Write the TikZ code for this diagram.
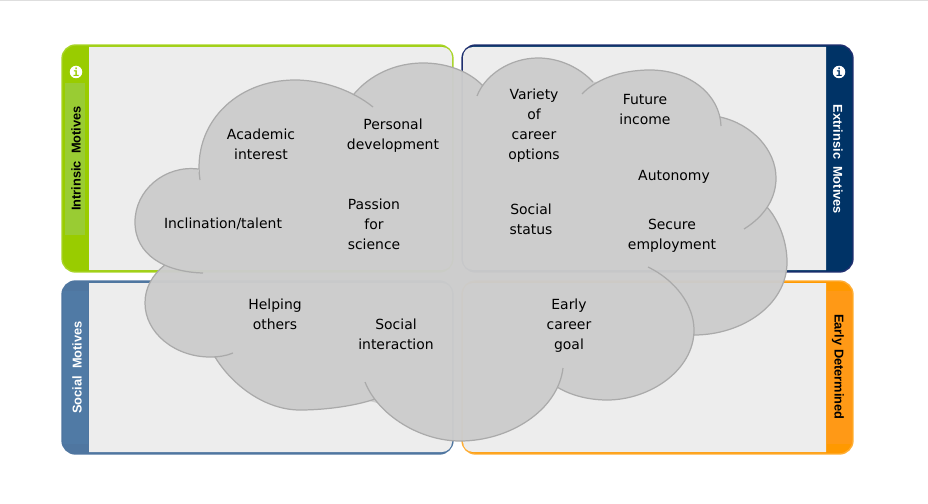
\documentclass[tikz,border=0pt]{standalone}
\usepackage{fontspec}
\setmainfont{DejaVu Sans}
\newfontfamily\tabfont{Liberation Sans}
\newfontfamily\infofont{DejaVu Sans Mono}
\usetikzlibrary{positioning}

\definecolor{panelgrey}{HTML}{EDEDED}
\definecolor{cloudgrey}{HTML}{CCCCCC}
\definecolor{cloudline}{HTML}{AAAAAA}
\definecolor{intrinsiccol}{HTML}{99CC00}
\definecolor{intrinsicband}{HTML}{99CC33}
\definecolor{extrinsiccol}{HTML}{003366}
\definecolor{extrinsicline}{HTML}{1F2F6F}
\definecolor{socialcol}{HTML}{4F76A0}
\definecolor{socialband}{HTML}{507AA5}
\definecolor{earlycol}{HTML}{FF9900}
\definecolor{earlyband}{HTML}{FF9916}

\tikzset{
  panelbox/.style={rectangle, rounded corners=0.27cm, line width=0.8pt, inner sep=0pt,
    minimum width=7.82cm},
  tablabel/.style={font=\tabfont\fontsize{7.3}{8}\selectfont\bfseries, inner sep=0pt},
  infoicon/.style={circle, fill=white, minimum size=0.25cm, inner sep=0pt,
    font=\infofont\bfseries\fontsize{6}{6}\selectfont},
  motive/.style={align=center, inner sep=0pt, yshift=-0.06cm,
    font=\fontsize{7.94}{11.34}\selectfont,
    execute at begin node=\strut, execute at end node=\strut},
}

% outline of the cloud, one open curve for each lobe
\def\cloudlobes{
  (203,273) .. controls (165,272) and (135,255) .. (135,222) .. controls (135,190) and (165,165) .. (198,169)
  (200,180) .. controls (192,125) and (235,80) .. (295,80) .. controls (322,80) and (352,90) .. (373,107)
  (354,94) .. controls (370,75) and (395,63) .. (423,63) .. controls (448,63) and (470,72) .. (483,86)
  (477,96) .. controls (485,75) and (510,58) .. (538,58) .. controls (560,58) and (580,68) .. (593,82)
  (582,94) .. controls (595,80) and (620,70) .. (650,70) .. controls (690,70) and (720,95) .. (721,126)
  (720,117) .. controls (752,124) and (776,150) .. (776,178) .. controls (776,198) and (765,216) .. (744,229)
  (767,207) .. controls (780,222) and (787,243) .. (787,262) .. controls (787,305) and (742,335) .. (694,335)
  (648,267) .. controls (675,280) and (694,305) .. (694,330) .. controls (694,370) and (650,400) .. (607,400) .. controls (588,400) and (570,395) .. (557,387)
  (563,368) .. controls (558,410) and (510,441) .. (460,441) .. controls (420,441) and (378,415) .. (365,382)
  (375,399) .. controls (355,406) and (325,410) .. (300,410) .. controls (265,410) and (232,385) .. (215,357)
  (233,353) .. controls (226,356) and (218,357) .. (210,357) .. controls (175,357) and (145,333) .. (145,303) .. controls (145,288) and (152,275) .. (165,265)
}

\begin{document}
\begin{tikzpicture}[x=0.02cm, y=-0.02cm]
  \useasboundingbox (0,0) rectangle (928,503);
  \fill[white] (0,0) rectangle (928,503);
  \draw[black!13, line width=0.6pt] (0,0.5) -- (928,0.5);

  % Panels
  \node[panelbox, minimum height=4.54cm, draw=intrinsiccol!85!white, fill=intrinsiccol] (intrinsic) at (257.5,158.5) {};
  \node[panelbox, minimum height=4.54cm, draw=extrinsicline, fill=extrinsiccol] (extrinsic) at (657.5,158.5) {};
  \node[panelbox, minimum height=3.46cm, draw=socialcol, fill=socialcol] (social) at (257.5,367.5) {};
  \node[panelbox, minimum height=3.46cm, draw=earlycol!80!white, fill=earlycol] (early) at (657.5,367.5) {};

  % Panel bodies
  \fill[panelgrey] (89,47) [rounded corners=0.2cm] -- (452,47) -- (452,270) [sharp corners] -- (89,270) -- cycle;
  \fill[panelgrey] (826,47) [rounded corners=0.2cm] -- (463,47) -- (463,270) [sharp corners] -- (826,270) -- cycle;
  \fill[panelgrey] (89,283) [rounded corners=0.2cm] -- (452,283) -- (452,452) [sharp corners] -- (89,452) -- cycle;
  \fill[panelgrey] (826,283) [rounded corners=0.2cm] -- (463,283) -- (463,452) [sharp corners] -- (826,452) -- cycle;

  % Tabs
  \fill[intrinsicband] (65,83) rectangle (85,235);
  \fill[socialband] (63,291) rectangle (88,444);
  \fill[earlyband] (827,291) rectangle (852,444);
  \node[tablabel, rotate=90] (intrinsiclabel) at (76,158.5) {Intrinsic~~Motives};
  \node[tablabel, rotate=-90, white] (extrinsiclabel) at (838,159.5) {Extrinsic~~Motives};
  \node[tablabel, rotate=90, white] (sociallabel) at (77,367.5) {Social~~Motives};
  \node[tablabel, rotate=-90] (earlylabel) at (838,367) {Early Determined};
  \node[infoicon, text=intrinsiccol] (intrinsicinfo) at (76,72) {i};
  \node[infoicon, text=extrinsiccol] (extrinsicinfo) at (839,72) {i};

  % Cloud
  \fill[cloudgrey, fill opacity=0.97] \cloudlobes
    (198,172) -- (354,94) -- (365,84) -- (470,80) -- (483,86) -- (490,80) -- (588,80) -- (593,82) -- (600,82)
    -- (720,120) -- (767,207) -- (694,335) -- (557,385) -- (385,405) -- (218,362) -- (165,265) -- cycle;
  \draw[cloudline, line width=0.7pt] \cloudlobes;

  % Motives
  \node[motive] (academic) at (261,144) {Academic\\interest};
  \node[motive] (personal) at (393,134) {Personal\\development};
  \node[motive] (variety) at (534,124) {Variety\\of\\career\\options};
  \node[motive] (income) at (645,109) {Future\\income};
  \node[motive] (autonomy) at (674,174) {Autonomy};
  \node[motive] (inclination) at (223,222) {Inclination/talent};
  \node[motive] (passion) at (374,224) {Passion\\for\\science};
  \node[motive] (status) at (531,219) {Social\\status};
  \node[motive] (secure) at (672,234) {Secure\\employment};
  \node[motive] (helping) at (275,314) {Helping\\others};
  \node[motive] (interaction) at (396,334) {Social\\interaction};
  \node[motive] (careergoal) at (569,324) {Early\\career\\goal};
\end{tikzpicture}
\end{document}
